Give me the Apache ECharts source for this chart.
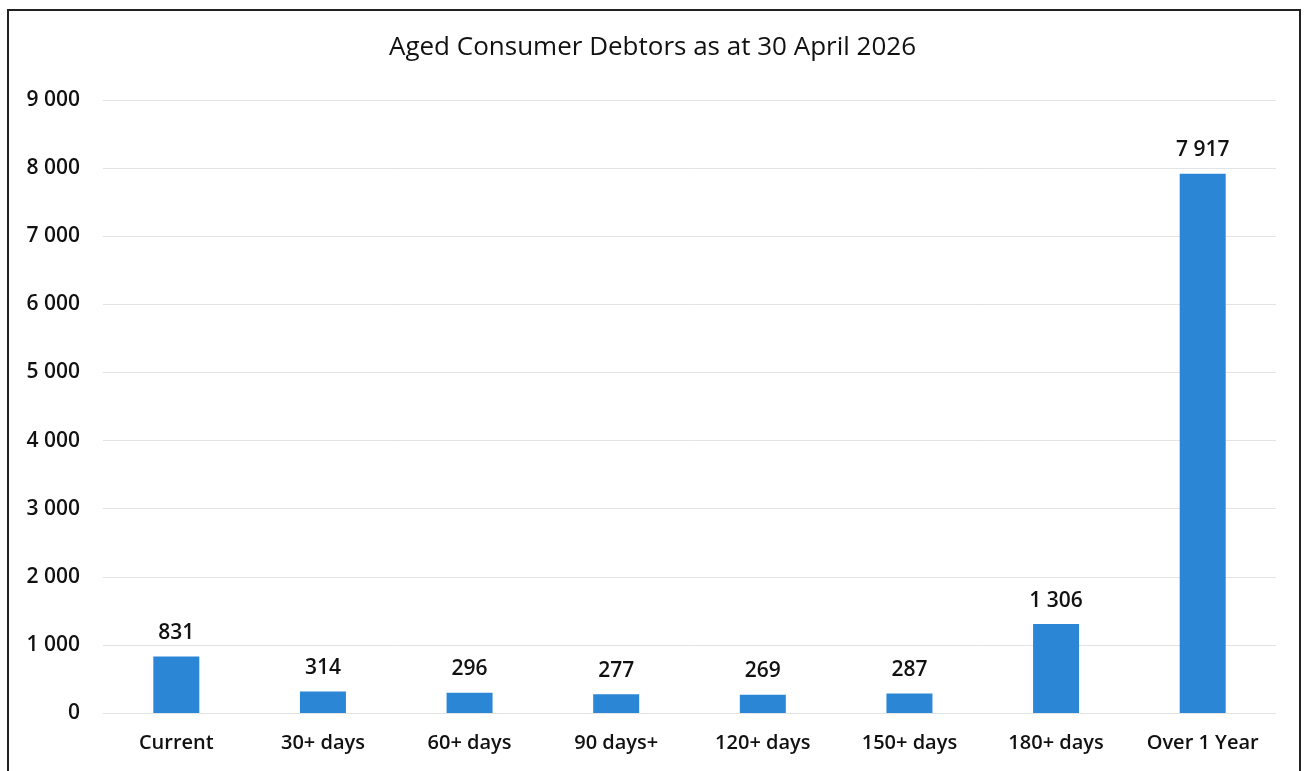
<!DOCTYPE html>
<html><head><meta charset="utf-8">
<script src="https://cdn.jsdelivr.net/npm/echarts@6/dist/echarts.min.js"></script>
<style>html,body{margin:0;padding:0;background:#fff}#c{width:1305px;height:771px}</style>
</head><body><div id="c"></div>
<script>
const titleText = 'Aged Consumer Debtors as at 30 April 2026';
const categories = ['Current','30+ days','60+ days','90 days+','120+ days','150+ days','180+ days','Over 1 Year'];
const values = [831,314,296,277,269,287,1306,7917];
const yMin = 0, yMax = 9000, yStep = 1000;

function fmt(v){return String(v).replace(/\B(?=(\d{3})+(?!\d))/g,' ');}
const chart = echarts.init(document.getElementById('c'));
chart.setOption({
  backgroundColor:'#fff',
  animation:false,
  title:{text:titleText,left:'center',top:30,textStyle:{fontFamily:'Open Sans',fontSize:26,fontWeight:'normal',color:'#111'}},
  graphic:[{type:'rect',shape:{x:8,y:10,width:1292,height:770},style:{fill:'none',stroke:'#222',lineWidth:2},silent:true}],
  grid:{left:103,right:29,top:100,bottom:58},
  xAxis:{type:'category',data:categories,axisLine:{show:false},axisTick:{show:false},
    axisLabel:{fontFamily:'Open Sans',fontSize:20,fontWeight:600,color:'#111',margin:20}},
  yAxis:{type:'value',min:yMin,max:yMax,interval:yStep,
    axisLabel:{formatter:fmt,fontFamily:'Open Sans',fontSize:21,fontWeight:600,color:'#111',margin:23},
    splitLine:{lineStyle:{color:'#e3e3e3',width:1}},axisLine:{show:false},axisTick:{show:false}},
  series:[{type:'bar',data:values,barWidth:46,itemStyle:{color:'#2b86d6'},
    label:{show:true,position:'top',distance:13,formatter:p=>fmt(p.value),fontFamily:'Open Sans',fontSize:21,fontWeight:600,color:'#111'}}]
});
</script></body></html>
